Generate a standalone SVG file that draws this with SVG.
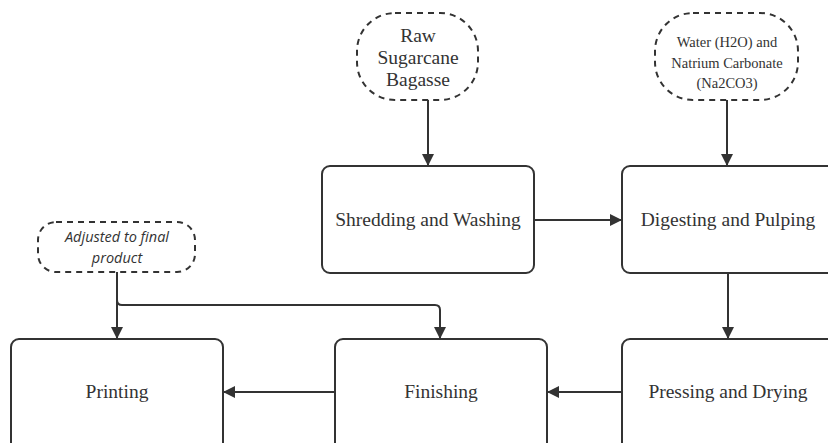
<svg xmlns="http://www.w3.org/2000/svg" width="828" height="443" viewBox="0 0 828 443">
<style>
.box{fill:#fff;stroke:#333;stroke-width:2}
.dash{fill:#fff;stroke:#333;stroke-width:2;stroke-dasharray:6 5}
.t{font-family:"Liberation Serif","Times New Roman",serif;font-size:19.5px;fill:#333;text-anchor:middle}
.ts{font-family:"Liberation Serif","Times New Roman",serif;font-size:19.5px;fill:#333;text-anchor:middle}
.tw{font-family:"Liberation Serif","Times New Roman",serif;font-size:14.5px;fill:#333;text-anchor:middle}
.ti{font-family:"Open Sans","Noto Sans",sans-serif;font-style:italic;font-size:14.5px;fill:#333;text-anchor:middle}
.c{fill:none;stroke:#333;stroke-width:2}
</style>
<defs>
<marker id="ah" viewBox="0 0 10 10" refX="10" refY="5" markerWidth="6" markerHeight="6" orient="auto" markerUnits="strokeWidth">
<path d="M0,0 L10,5 L0,10 z" fill="#333"/>
</marker>
</defs>
<rect width="828" height="443" fill="#fff"/>
<g id="connectors">
<path class="c" d="M428,100 V166" marker-end="url(#ah)"/>
<path class="c" d="M727,100 V166" marker-end="url(#ah)"/>
<path class="c" d="M534,220 H622" marker-end="url(#ah)"/>
<path class="c" d="M728,273 V339" marker-end="url(#ah)"/>
<path class="c" d="M622,392 H547" marker-end="url(#ah)"/>
<path class="c" d="M335,392 H223" marker-end="url(#ah)"/>
<path class="c" d="M117,272 V339" marker-end="url(#ah)"/>
<path class="c" d="M117,300 Q117,305 122,305 H435 Q440,305 440,310 V339" marker-end="url(#ah)"/>
</g>
<g id="raw">
<rect class="dash" x="357" y="13" width="121" height="87" rx="38"/>
<text class="ts" x="418" y="42">Raw</text>
<text class="ts" x="418" y="64">Sugarcane</text>
<text class="ts" x="418" y="86">Bagasse</text>
</g>
<g id="water">
<rect class="dash" x="655" y="13" width="143" height="87" rx="38"/>
<text class="tw" x="727" y="47">Water (H2O) and</text>
<text class="tw" x="727" y="68">Natrium Carbonate</text>
<text class="tw" x="727" y="88">(Na2CO3)</text>
</g>
<g id="adjusted">
<rect class="dash" x="38" y="222" width="157" height="50" rx="18"/>
<text class="ti" x="117" y="242">Adjusted to final</text>
<text class="ti" x="117" y="263">product</text>
</g>
<g id="shredding">
<rect class="box" x="322" y="166" width="212" height="107" rx="8"/>
<text class="t" x="428" y="226">Shredding and Washing</text>
</g>
<g id="digesting">
<rect class="box" x="622" y="166" width="220" height="107" rx="8"/>
<text class="t" x="728" y="226">Digesting and Pulping</text>
</g>
<g id="pressing">
<rect class="box" x="622" y="339" width="220" height="120" rx="8"/>
<text class="t" x="728" y="398">Pressing and Drying</text>
</g>
<g id="finishing">
<rect class="box" x="335" y="339" width="212" height="120" rx="8"/>
<text class="t" x="441" y="398">Finishing</text>
</g>
<g id="printing">
<rect class="box" x="11" y="339" width="212" height="120" rx="8"/>
<text class="t" x="117" y="398">Printing</text>
</g>
</svg>
